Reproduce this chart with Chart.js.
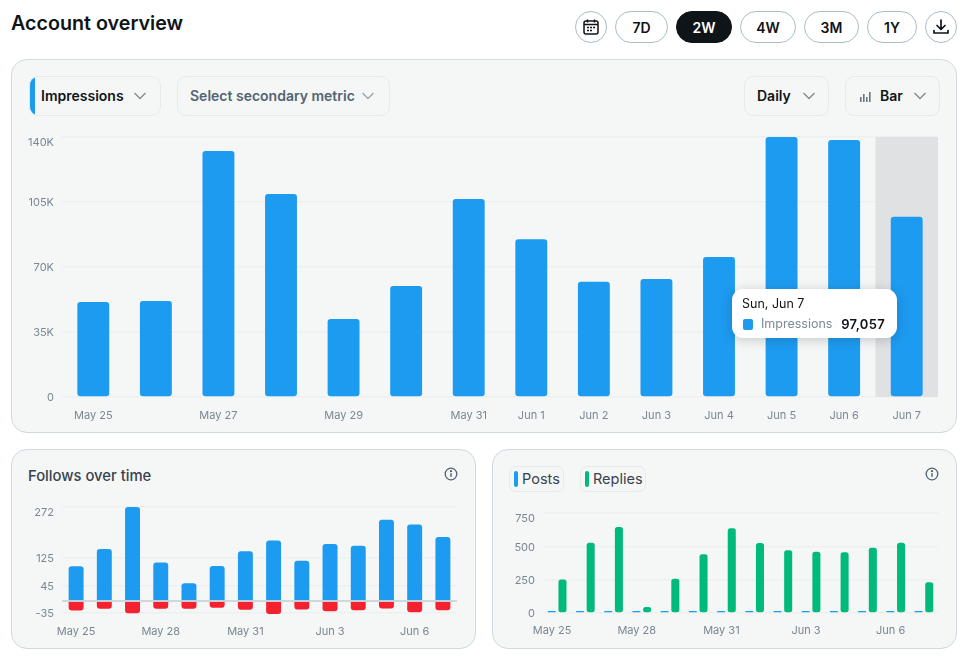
<!DOCTYPE html>
<html lang="en">
<head>
<meta charset="utf-8">
<title>Account overview</title>
<script src="https://cdn.jsdelivr.net/npm/chart.js@4/dist/chart.umd.min.js"></script>
<style>
  * { box-sizing: border-box; }
  html, body { margin: 0; padding: 0; background: #fff; width: 966px; height: 657px; overflow: hidden; }
  body { position: relative; font-family: Inter, "Noto Sans", sans-serif; color: #0f1419; }
  .abs { position: absolute; }
  h1 { position: absolute; left: 11px; top: 10px; margin: 0; font-size: 19.7px; line-height: 26px; font-weight: 600; }
  .pill { position: absolute; top: 11px; height: 32px; border: 1px solid #aabdcb; border-radius: 16px; background: #fff;
          font-size: 14px; font-weight: 600; display: flex; align-items: center; justify-content: center; }
  .pill.on { background: #0f1419; color: #fff; border-color: #0f1419; }
  .panel { position: absolute; background: #f5f7f7; border: 1px solid #cfd9de; border-radius: 16px; }
  .select { position: absolute; top: 76px; height: 40px; border: 1px solid #e7eaec; border-radius: 9px; font-size: 14px; font-weight: 600;
            display: flex; align-items: center; white-space: nowrap; overflow: hidden; }
  .select span { margin-top: -1px; }
  .select svg.chev { position: absolute; top: 14px; }
  .select .accent { position: absolute; left: -1px; top: -1px; bottom: -1px; width: 6px; background: #1d9bf0; }
  canvas { position: absolute; display: block; }
  .chip { position: absolute; top: 466px; height: 26px; border: 1px solid #e7eaec; border-radius: 7px; font-size: 14.5px; color: #39424e; display: flex; align-items: center; }
  .chip i { position: absolute; left: 4px; top: 4px; width: 4px; height: 16px; border-radius: 2px; }
  .chip span { position: absolute; left: 12px; margin-top: -1px; }
  .tip { position: absolute; left: 732px; top: 289px; width: 165px; height: 49px; background: #fff; border-radius: 11px;
         box-shadow: 0 2px 12px rgba(15, 20, 25, .2); font-size: 12.5px; }
  .tip .t { position: absolute; left: 10px; top: 7px; line-height: 16px; }
  .tip .sq { position: absolute; left: 11px; top: 30px; width: 10px; height: 11px; border-radius: 2px; background: #1d9bf0; }
  .tip .n { position: absolute; left: 29px; top: 27px; line-height: 16px; color: #7b8a98; }
  .tip .v { position: absolute; right: 12px; top: 27px; line-height: 16px; font-weight: 600; font-size: 13px; letter-spacing: .3px; }
</style>
</head>
<body>
<h1>Account overview</h1>

<div class="pill" style="left:575px;width:32px">
  <svg width="18" height="18" viewBox="0 0 18 18" fill="none" stroke="#0f1419" stroke-width="1.5"><rect x="2" y="3" width="14" height="13" rx="2"/><path d="M2 6.5h14M5.5 1.5v3M12.5 1.5v3"/><path d="M5 9.5h2M8 9.5h2M11 9.5h2M5 12.5h2M8 12.5h2" stroke-width="1.4"/></svg>
</div>
<div class="pill" style="left:615px;width:53px">7D</div>
<div class="pill on" style="left:676px;width:56px">2W</div>
<div class="pill" style="left:740px;width:56px">4W</div>
<div class="pill" style="left:804px;width:55px">3M</div>
<div class="pill" style="left:867px;width:50px">1Y</div>
<div class="pill" style="left:925px;width:32px">
  <svg width="18" height="18" viewBox="0 0 18 18" fill="none" stroke="#0f1419" stroke-width="1.7" stroke-linecap="round" stroke-linejoin="round"><path d="M9 2v9M5 7.5 9 11.5 13 7.5M2 12.5v2.5h14v-2.5"/></svg>
</div>

<div class="panel" style="left:11px;top:59px;width:946px;height:374px"></div>

<div class="select" style="left:29px;width:132px"><div class="accent"></div><span style="position:absolute;left:11px">Impressions</span>
  <svg class="chev" style="left:103px" width="14" height="10" viewBox="0 0 14 10" fill="none" stroke="#80898f" stroke-width="1.3"><path d="M1.5 2 7 7.5 12.5 2"/></svg></div>
<div class="select" style="left:177px;width:213px;color:#536471"><span style="position:absolute;left:12px">Select secondary metric</span>
  <svg class="chev" style="left:183px" width="14" height="10" viewBox="0 0 14 10" fill="none" stroke="#9aa3a9" stroke-width="1.3"><path d="M1.5 2 7 7.5 12.5 2"/></svg></div>
<div class="select" style="left:744px;width:85px"><span style="position:absolute;left:12px">Daily</span>
  <svg class="chev" style="left:57px" width="14" height="10" viewBox="0 0 14 10" fill="none" stroke="#80898f" stroke-width="1.3"><path d="M1.5 2 7 7.5 12.5 2"/></svg></div>
<div class="select" style="left:845px;width:95px">
  <svg style="position:absolute;left:14px;top:14px" width="11" height="12" viewBox="0 0 11 12" fill="#6b7680"><rect x="0" y="6" width="1.6" height="5"/><rect x="3" y="3" width="1.6" height="8"/><rect x="6" y="6" width="1.6" height="5"/><rect x="9" y="1" width="1.6" height="10"/></svg>
  <span style="position:absolute;left:34px">Bar</span>
  <svg class="chev" style="left:67px" width="14" height="10" viewBox="0 0 14 10" fill="none" stroke="#80898f" stroke-width="1.3"><path d="M1.5 2 7 7.5 12.5 2"/></svg></div>

<canvas id="impressionsChart" width="945" height="300" style="left:11px;top:125px"></canvas>

<div class="tip">
  <div class="t" id="tipTitle"></div>
  <div class="sq"></div>
  <div class="n">Impressions</div>
  <div class="v" id="tipValue"></div>
</div>

<div class="panel" style="left:11px;top:449px;width:465px;height:200px"></div>
<div class="abs" style="left:28px;top:466px;font-size:14.8px;line-height:20px;font-weight:500;color:#39424e">Follows over time</div>
<svg class="abs" style="left:444px;top:467px" width="14" height="14" viewBox="0 0 14 14" fill="none" stroke="#536471" stroke-width="1.3"><circle cx="7" cy="7" r="5.8"/><path d="M7 6.2v3.6" stroke-width="1.5"/><circle cx="7" cy="4.2" r=".5" fill="#536471"/></svg>
<canvas id="followsChart" width="464" height="150" style="left:11px;top:495px"></canvas>

<div class="panel" style="left:492px;top:449px;width:465px;height:200px"></div>
<div class="chip" style="left:509px;width:55px"><i style="background:#1d9bf0"></i><span>Posts</span></div>
<div class="chip" style="left:580px;width:66px"><i style="background:#00ba7c"></i><span>Replies</span></div>
<svg class="abs" style="left:925px;top:467px" width="14" height="14" viewBox="0 0 14 14" fill="none" stroke="#536471" stroke-width="1.3"><circle cx="7" cy="7" r="5.8"/><path d="M7 6.2v3.6" stroke-width="1.5"/><circle cx="7" cy="4.2" r=".5" fill="#536471"/></svg>
<canvas id="activityChart" width="464" height="150" style="left:492px;top:495px"></canvas>

<script>
// Daily values
const days = ['May 25','May 26','May 27','May 28','May 29','May 30','May 31','Jun 1','Jun 2','Jun 3','Jun 4','Jun 5','Jun 6','Jun 7'];
const impressions = [51200,51700,132500,109300,42000,59800,106600,85000,62000,63500,75400,140000,138400,97057];
const followsGained = [100,150,272,111,51,101,144,175,116,165,160,235,221,185];
const followsLost = [-28,-23,-36,-23,-23,-20,-26,-38,-25,-30,-27,-22,-33,-27];
const posts = [3,4,3,3,3,3,3,3,3,3,4,10,5,3];
const replies = [252,527,645,45,257,440,635,525,470,460,455,490,527,230];

// Axis ticks
const impressionTicks = [0,35000,70000,105000,140000];
const impressionDayLabels = ['May 25','','May 27','','May 29','','May 31','Jun 1','Jun 2','Jun 3','Jun 4','Jun 5','Jun 6','Jun 7'];
const followTicks = [-35,0,45,125,272];
const activityTicks = [0,250,500,750];
const compactDayLabels = ['May 25','','','May 28','','','May 31','','','Jun 3','','','Jun 6',''];

const hoveredIndex = 13;
const hoveredTitle = 'Sun, Jun 7';

const BLUE = '#1d9bf0', RED = '#f4212e', GREEN = '#00ba7c';
const GRID = '#edf0f1', AXIS_TEXT = '#7a8691';

Chart.defaults.font.family = 'Inter, "Noto Sans", sans-serif';
Chart.defaults.animation = false;

// Y labels sit a pixel low; the highest one drops further to stay inside the plot.
const nudgeLabels = {
  id: 'nudgeLabels',
  beforeDraw(chart) {
    const items = chart.scales.y.getLabelItems(chart.chartArea);
    items.forEach((item, i) => {
      if (item.nudged) return;
      item.options.translation[1] += i === items.length - 1 ? 6 : 1;
      item.nudged = true;
    });
  }
};

// Grey band behind the selected day.
const hoverBand = {
  id: 'hoverBand',
  beforeDatasetsDraw(chart) {
    const { ctx, chartArea, scales: { x } } = chart;
    const half = (x.getPixelForValue(1) - x.getPixelForValue(0)) / 2;
    const cx = x.getPixelForValue(hoveredIndex);
    ctx.save();
    ctx.fillStyle = '#dfe1e3';
    ctx.fillRect(cx - half, chartArea.top, half * 2, chartArea.bottom - chartArea.top);
    ctx.restore();
  }
};

// Heavier baseline at zero, on top of the stacked bars.
const zeroLine = {
  id: 'zeroLine',
  afterDatasetsDraw(chart) {
    const { ctx, chartArea, scales: { y } } = chart;
    const py = y.getPixelForValue(0);
    ctx.save();
    ctx.strokeStyle = '#c4cfd7';
    ctx.lineWidth = 1.5;
    ctx.beginPath();
    ctx.moveTo(chartArea.left, py);
    ctx.lineTo(chartArea.right, py);
    ctx.stroke();
    ctx.restore();
  }
};

function yAxis(tickValues, format, extra) {
  return Object.assign({
    afterFit(scale) { scale.width = 51; scale.paddingTop = 0; scale.paddingBottom = 0; },
    afterBuildTicks(scale) { scale.ticks = tickValues.map(value => ({ value })); },
    border: { display: false },
    grid: { color: GRID, lineWidth: 1.5, drawTicks: false },
    ticks: { padding: 8, color: AXIS_TEXT, font: { size: 11 }, autoSkip: false, callback: format }
  }, extra);
}

function xAxis(tickLabels, height, padding, labelOffset, extra) {
  return Object.assign({
    afterFit(scale) { scale.height = height; scale.paddingLeft = 0; scale.paddingRight = 0; },
    border: { display: false },
    grid: { display: false, drawTicks: false },
    ticks: { padding, labelOffset, color: AXIS_TEXT, font: { size: 11 }, autoSkip: false, maxRotation: 0, minRotation: 0,
             callback: (value, index) => tickLabels[index] }
  }, extra);
}

function barChart(id, datasets, scales, padding, plugins) {
  return new Chart(document.getElementById(id), {
    type: 'bar',
    data: { labels: days, datasets },
    options: {
      responsive: false,
      events: [],
      layout: { padding },
      plugins: { legend: { display: false }, tooltip: { enabled: false } },
      scales
    },
    plugins
  });
}

barChart('impressionsChart',
  [{ label: 'Impressions', data: impressions, backgroundColor: BLUE, borderRadius: 3, borderSkipped: false,
     categoryPercentage: 1, barPercentage: 0.51 }],
  {
    x: xAxis(impressionDayLabels, 24, 12, 0),
    y: yAxis(impressionTicks, v => v === 0 ? '0' : (v / 1000) + 'K', { min: 0, max: 140000 })
  },
  { left: 0, right: 18, top: 12, bottom: 4 },
  [nudgeLabels, hoverBand]);

barChart('followsChart',
  [
    { label: 'Follows', data: followsGained, backgroundColor: BLUE, borderSkipped: false,
      borderRadius: { topLeft: 3, topRight: 3, bottomLeft: 0, bottomRight: 0 }, categoryPercentage: 1, barPercentage: 0.53 },
    { label: 'Unfollows', data: followsLost, backgroundColor: RED, borderSkipped: false,
      borderRadius: { topLeft: 0, topRight: 0, bottomLeft: 3, bottomRight: 3 }, categoryPercentage: 1, barPercentage: 0.53 }
  ],
  {
    x: xAxis(compactDayLabels, 27, 11, 0, { stacked: true }),
    y: yAxis(followTicks, v => v === 0 ? '' : String(v), { min: -38, max: 272, stacked: true })
  },
  { left: 0, right: 18, top: 12, bottom: 4 },
  [nudgeLabels, zeroLine]);

barChart('activityChart',
  [
    { label: 'Posts', data: posts, backgroundColor: BLUE, borderRadius: 0.5, borderSkipped: false, minBarLength: 2,
      categoryPercentage: 0.76, barPercentage: 0.75 },
    { label: 'Replies', data: replies, backgroundColor: GREEN, borderRadius: 2.5, borderSkipped: false,
      categoryPercentage: 0.76, barPercentage: 0.75 }
  ],
  {
    x: xAxis(compactDayLabels, 28, 11, -5),
    y: yAxis(activityTicks, v => String(v), { min: 0, max: 750 })
  },
  { left: 0, right: 18, top: 18, bottom: 4 },
  [nudgeLabels]);

// Readout for the selected day
document.getElementById('tipTitle').textContent = hoveredTitle;
document.getElementById('tipValue').textContent = impressions[hoveredIndex].toLocaleString('en-US');
</script>
</body>
</html>
